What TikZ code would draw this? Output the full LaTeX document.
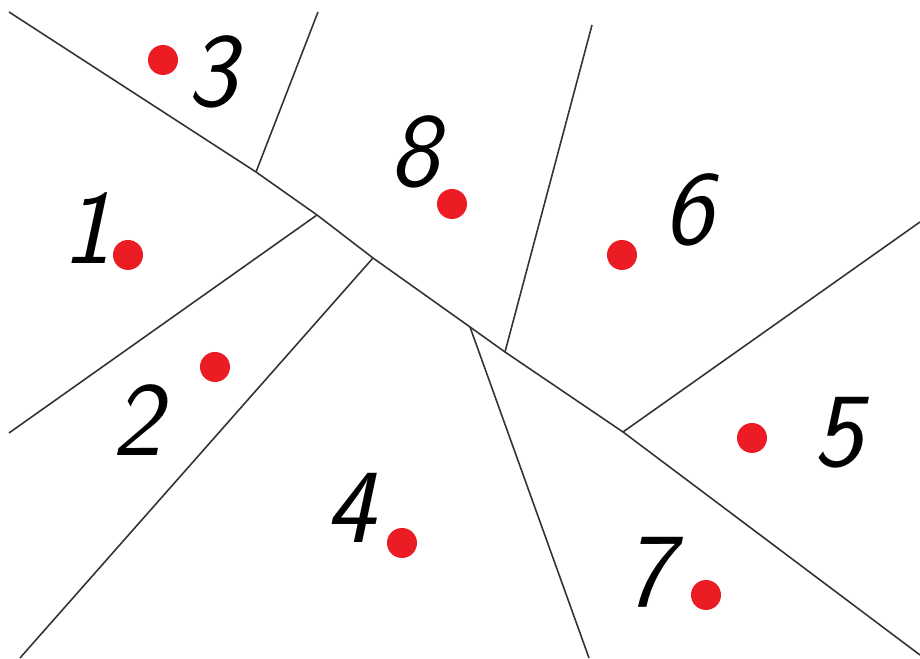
\documentclass[tikz,border=0pt]{standalone}
\usepackage{tikz}
\usetikzlibrary{positioning}
\definecolor{dotred}{RGB}{236,28,36}

\begin{document}
\begin{tikzpicture}[
  x=0.01cm, y=-0.01cm,
  cut/.style={draw=black!80, line width=0.45pt},
  dot/.style={circle, fill=dotred, inner sep=0pt, minimum size=0.3cm},
  num/.style={font=\fontsize{30}{32}\selectfont\sffamily\slshape, inner sep=0pt},
]
  \useasboundingbox (0,0) rectangle (920,659);

  %% ---- corner points ----
  \coordinate (a0) at (9,12);
  \coordinate (j38) at (256,172);
  \coordinate (j12) at (317,215);
  \coordinate (j24) at (373,258);
  \coordinate (j47) at (470,327);
  \coordinate (j86) at (505,352);
  \coordinate (j5) at (623,432);
  \coordinate (a1) at (920,655);

  \coordinate (t38) at (318,12);
  \coordinate (t86) at (592,25);
  \coordinate (l12) at (9,433);
  \coordinate (b24) at (20,658);
  \coordinate (b47) at (589,658);
  \coordinate (r65) at (920,222);

  %% ---- cuts ----
  \draw[cut] (a0) -- (j38) -- (j12) -- (j24) -- (j47) -- (j86) -- (j5) -- (a1);
  \draw[cut] (t38) -- (j38);
  \draw[cut] (t86) -- (j86);
  \draw[cut] (l12) -- (j12);
  \draw[cut] (b24) -- (j24);
  \draw[cut] (b47) -- (j47);
  \draw[cut] (r65) -- (j5);

  %% ---- pieces ----
  \node[dot] (d1) at (128,255) {};
  \node[num] (n1) at (87,228) {1};
  \node[dot] (d2) at (215,367) {};
  \node[num] (n2) at (137,420) {2};
  \node[dot] (d3) at (163,60) {};
  \node[num] (n3) at (212,72) {3};
  \node[dot] (d4) at (402,543) {};
  \node[num] (n4) at (350,508) {4};
  \node[dot] (d5) at (752,438) {};
  \node[num] (n5) at (838,433) {5};
  \node[dot] (d6) at (622,255) {};
  \node[num] (n6) at (688,210) {6};
  \node[dot] (d7) at (706,595) {};
  \node[num] (n7) at (648,572) {7};
  \node[dot] (d8) at (452,204) {};
  \node[num] (n8) at (414,152) {8};
\end{tikzpicture}
\end{document}
